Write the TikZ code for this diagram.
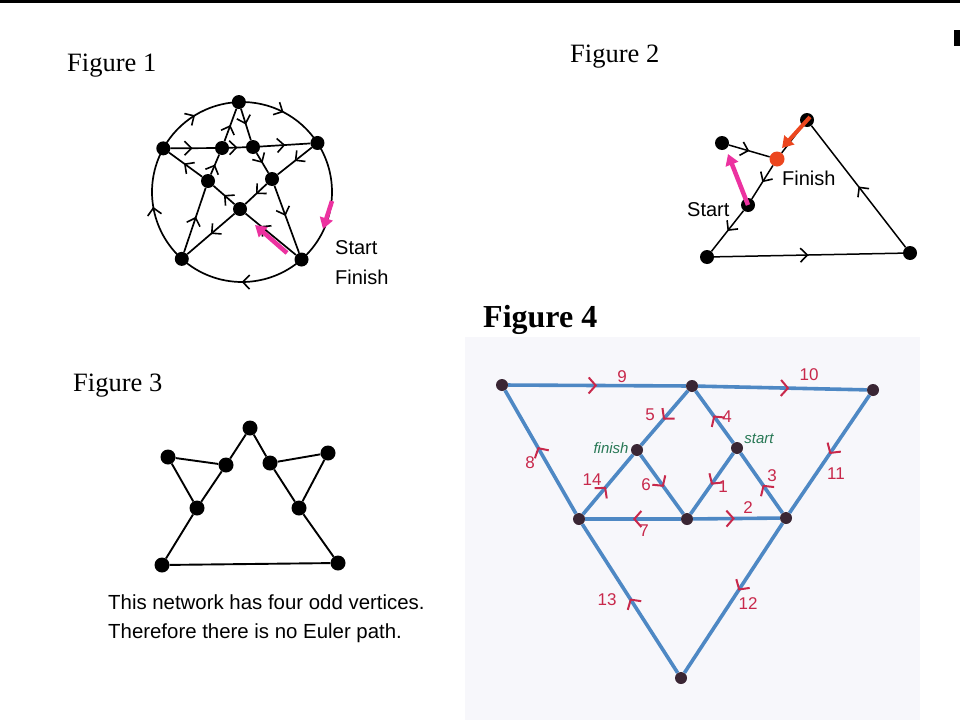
\documentclass[tikz,border=0pt]{standalone}
\usepackage{fontspec}
\setmainfont{Liberation Serif}
\setsansfont{Liberation Sans}
\usetikzlibrary{arrows.meta,decorations.markings}
\definecolor{pinkm}{RGB}{236,50,160}
\definecolor{orr}{RGB}{236,70,30}
\definecolor{pbg}{RGB}{247,247,251}
\definecolor{bluefour}{RGB}{78,136,196}
\definecolor{ndfour}{RGB}{58,38,52}
\definecolor{labfour}{RGB}{200,40,75}
\definecolor{grnfour}{RGB}{40,120,85}
\begin{document}
\begin{tikzpicture}[x=1pt,y=-1pt,
  dot/.style={circle,fill=black,inner sep=0pt,minimum size=14pt},
  dotb/.style={circle,fill=black,inner sep=0pt,minimum size=15pt},
  dotf/.style={circle,fill=ndfour,inner sep=0pt,minimum size=12pt},
  eone/.style={line width=1.7pt},
  etwo/.style={line width=1.5pt},
  ethree/.style={line width=1.9pt},
  efour/.style={line width=3.6pt,color=bluefour},
  ar/.style={postaction={decorate},decoration={markings,mark=at position #1 with {\arrow{Straight Barb[length=7pt,width=14pt,line width=1.6pt]}}}},
  ar/.default=0.5,
  rar/.style={postaction={decorate},decoration={markings,mark=at position #1 with {\arrow{Straight Barb[length=7pt,width=16pt,line width=2pt,color=labfour]}}}},
  rar/.default=0.5,
  pinkarrow/.style={pinkm,line width=4.5pt,-{Triangle[length=11pt,width=13pt]}},
  redarrow/.style={orr,line width=4pt,-{Triangle[length=11pt,width=13pt]}},
  title/.style={anchor=base west,font=\fontsize{26.5}{30}\selectfont,inner sep=0pt},
  sflab/.style={anchor=base west,font=\sffamily\fontsize{20}{22}\selectfont,inner sep=0pt},
  sftxt/.style={anchor=base west,font=\sffamily\fontsize{20.4}{23}\selectfont,inner sep=0pt},
  num/.style={font=\sffamily\fontsize{17}{19}\selectfont,text=labfour,inner sep=0pt},
  hw/.style={font=\sffamily\itshape\fontsize{15}{17}\selectfont,text=grnfour,inner sep=0pt}
]
\useasboundingbox (0,0) rectangle (960,720);
\fill[white] (0,0) rectangle (960,720);
\fill[black] (0,0) rectangle (960,3);
\fill[black] (954,30) rectangle (960,46);
\fill[pbg] (465,337) rectangle (920,720);

% ---------- Figure 1 ----------
\node[title] (f1) at (67,71) {Figure 1};
\coordinate (c1) at (242,192);
\node[dot] (T) at ([shift={(268:90)}]c1) {};
\node[dot] (R) at ([shift={(327:90)}]c1) {};
\node[dot] (BR) at ([shift={(48.6:90)}]c1) {};
\node[dot] (BL) at ([shift={(132:90)}]c1) {};
\node[dot] (L) at ([shift={(209:90)}]c1) {};
\node[dot] (ILT) at (222,148) {};
\node[dot] (IRT) at (253,147) {};
\node[dot] (ILL) at (208,181) {};
\node[dot] (IRL) at (272,179) {};
\node[dot] (CEN) at (240,209) {};
\draw[eone,ar] (T) arc[start angle=268,end angle=327,radius=90];
\draw[eone] (R) arc[start angle=327,end angle=408.6,radius=90];
\draw[eone,ar] (BR) arc[start angle=48.6,end angle=132,radius=90];
\draw[eone,ar] (BL) arc[start angle=132,end angle=209,radius=90];
\draw[eone,ar] (L) arc[start angle=209,end angle=268,radius=90];
\draw[eone,ar] (L) -- (ILT);
\draw[eone,ar] (ILT) -- (IRT);
\draw[eone,ar] (IRT) -- (R);
\draw[eone,ar] (ILT) -- (T);
\draw[eone,ar] (T) -- (IRT);
\draw[eone,ar] (IRT) -- (IRL);
\draw[eone,ar] (R) -- (IRL);
\draw[eone,ar] (IRL) -- (CEN);
\draw[eone,ar=0.45] (IRL) -- (BR);
\draw[eone,ar=0.7] (BR) -- (CEN);
\draw[eone,ar] (CEN) -- (ILL);
\draw[eone,ar] (CEN) -- (BL);
\draw[eone,ar=0.55] (ILL) -- (L);
\draw[eone,ar] (ILL) -- (ILT);
\draw[eone,ar=0.55] (BL) -- (ILL);
\coordinate (p1a) at (287,253);
\coordinate (p1b) at (255,225);
\coordinate (p2a) at (332,201);
\coordinate (p2b) at (323,229);
\draw[pinkarrow] (p1a) -- (p1b);
\draw[pinkarrow] (p2a) -- (p2b);
\node[sflab] (st1) at (335,254) {Start};
\node[sflab] (fi1) at (335,284) {Finish};

% ---------- Figure 2 ----------
\node[title] (f2) at (570,62) {Figure 2};
\node[dot] (T2) at (807,120) {};
\node[dot] (L2) at (722,143) {};
\node[dot,fill=orr,minimum size=15pt] (RD) at (777,159) {};
\node[dot] (S2) at (748,205) {};
\node[dot] (BL2) at (707,257) {};
\node[dot] (BR2) at (910,253) {};
\draw[etwo,ar] (L2) -- (RD);
\draw[etwo,ar] (RD) -- (S2);
\draw[etwo,ar] (S2) -- (BL2);
\draw[etwo,ar] (BL2) -- (BR2);
\draw[etwo,ar] (BR2) -- (T2);
\draw[etwo] (T2) -- (RD);
\coordinate (r2a) at (810,117);
\coordinate (r2b) at (782,148);
\coordinate (q2b) at (728,154);
\draw[redarrow] (r2a) -- (r2b);
\draw[pinkarrow] (S2.center) -- (q2b);
\node[sflab] (st2) at (687,216) {Start};
\node[sflab] (fi2) at (782,185) {Finish};

% ---------- Figure 3 ----------
\node[title] (f3) at (73,391) {Figure 3};
\node[dotb] (A3) at (250,428) {};
\node[dotb] (B3) at (168,457) {};
\node[dotb] (C3) at (226,465) {};
\node[dotb] (D3) at (270,463) {};
\node[dotb] (E3) at (328,453) {};
\node[dotb] (F3) at (197,508) {};
\node[dotb] (G3) at (299,508) {};
\node[dotb] (H3) at (162,565) {};
\node[dotb] (I3) at (338,563) {};
\draw[ethree] (A3) -- (C3);
\draw[ethree] (A3) -- (D3);
\draw[ethree] (B3) -- (C3);
\draw[ethree] (B3) -- (F3);
\draw[ethree] (C3) -- (F3);
\draw[ethree] (F3) -- (H3);
\draw[ethree] (H3) -- (I3);
\draw[ethree] (D3) -- (E3);
\draw[ethree] (D3) -- (G3);
\draw[ethree] (E3) -- (G3);
\draw[ethree] (G3) -- (I3);
\node[sftxt] (t3a) at (108,609) {This network has four odd vertices.};
\node[sftxt] (t3b) at (108,638) {Therefore there is no Euler path.};

% ---------- Figure 4 ----------
\node[title,font=\bfseries\fontsize{32}{36}\selectfont] (f4) at (483,327) {Figure 4};
\node[dotf] (A4) at (502,385) {};
\node[dotf] (B4) at (692,386) {};
\node[dotf] (C4) at (873,390) {};
\node[dotf] (FI) at (637,450) {};
\node[dotf] (ST) at (737,448) {};
\node[dotf] (D4) at (579,519) {};
\node[dotf] (E4) at (687,519) {};
\node[dotf] (F4) at (786,518) {};
\node[dotf] (G4) at (681,678) {};
\draw[efour,rar] (A4) -- (B4);
\draw[efour,rar=0.54] (B4) -- (C4);
\draw[efour,rar=0.54] (D4) -- (A4);
\draw[efour,rar] (C4) -- (F4);
\draw[efour,rar=0.53] (B4) -- (FI);
\draw[efour,rar=0.53] (ST) -- (B4);
\draw[efour,rar=0.46] (D4) -- (FI);
\draw[efour,rar=0.54] (FI) -- (E4);
\draw[efour,rar=0.52] (ST) -- (E4);
\draw[efour,rar=0.47] (F4) -- (ST);
\draw[efour,rar] (E4) -- (D4);
\draw[efour,rar=0.48] (E4) -- (F4);
\draw[efour,rar] (G4) -- (D4);
\draw[efour,rar=0.45] (F4) -- (G4);
\node[num] (n9) at (622,377) {9};
\node[num] (n10) at (809,375) {10};
\node[num] (n8) at (530,463) {8};
\node[num] (n11) at (836,474) {11};
\node[num] (n5) at (650,415) {5};
\node[num] (n4) at (727,417) {4};
\node[num] (n14) at (592,480) {14};
\node[num] (n6) at (646,485) {6};
\node[num] (n1) at (723,487) {1};
\node[num] (n3) at (772,476) {3};
\node[num] (n7) at (644,531) {7};
\node[num] (n2) at (748,508) {2};
\node[num] (n13) at (607,600) {13};
\node[num] (n12) at (748,604) {12};
\node[hw] (hfi) at (611,448) {finish};
\node[hw] (hst) at (759,439) {start};
\end{tikzpicture}
\end{document}
